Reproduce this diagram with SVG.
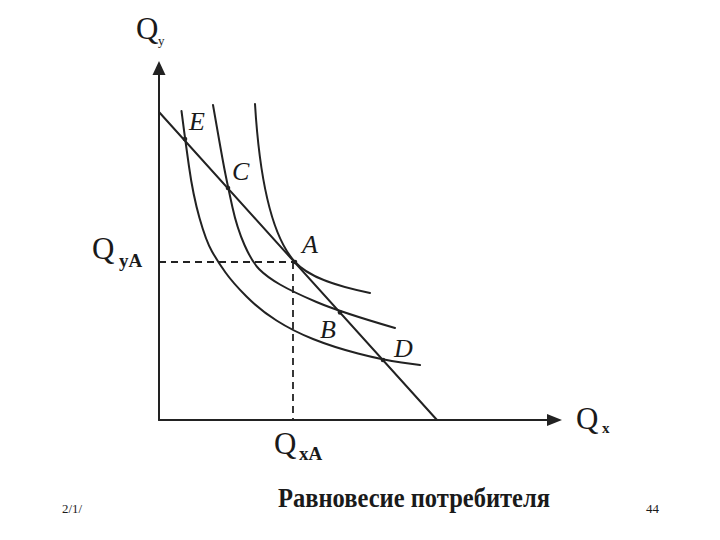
<svg xmlns="http://www.w3.org/2000/svg" width="720" height="540" viewBox="0 0 720 540">
<style>
.ln{fill:none;stroke:#222;stroke-width:2;stroke-linecap:round;stroke-linejoin:round}
.ds{fill:none;stroke:#222;stroke-width:1.8;stroke-dasharray:7 5}
.q{font-family:"Liberation Serif",serif;fill:#1a1a1a}
.it{font-family:"Liberation Serif",serif;font-style:italic;fill:#1a1a1a;font-size:26px}
.pt{fill:#222}
</style>
<rect width="720" height="540" fill="#fff"/>
<g id="axes">
<line class="ln" x1="159" y1="420" x2="159" y2="74"/>
<polygon class="pt" points="159,61 152.5,75 165.5,75"/>
<line class="ln" x1="159" y1="420" x2="549" y2="420"/>
<polygon class="pt" points="562,420 547,414 547,426"/>
</g>
<g id="connectors">
<line id="budget" class="ln" x1="159" y1="112" x2="437" y2="420"/>
<path id="u1" class="ln" d="M181.5,111 L183.25,124.5 Q185,138 189,166.5 Q193,195 199.5,218 Q206,241 212,251.5 Q218,262 225.5,272.5 Q233,283 246.5,296.5 Q260,310 276.5,320.5 Q293,331 313,339 Q333,347 358,353.5 Q383,360 401.5,362.5 L420,365"/>
<path id="u2" class="ln" d="M213,105 L218,133.5 Q223,162 225.5,174.5 Q228,187 232.5,207.5 Q237,228 244.5,245 Q252,262 259.5,269.5 Q267,277 280,284.5 Q293,292 316.5,302 Q340,312 395,328"/>
<path id="u3" class="ln" d="M255,104 C259,170 270,234.5 295,262 C310,278.5 340,287 370,293"/>
<line class="ds" x1="159" y1="262" x2="295" y2="262"/>
<line class="ds" x1="293" y1="262" x2="293" y2="420"/>
</g>
<g id="points">
<circle class="pt" cx="185" cy="139" r="2.3"/>
<circle class="pt" cx="228" cy="188" r="2.3"/>
<circle class="pt" cx="295" cy="262" r="2.3"/>
<circle class="pt" cx="340" cy="312.5" r="2.3"/>
<circle class="pt" cx="383" cy="360" r="2.3"/>
</g>
<g id="labels">
<text class="q" x="136" y="39" font-size="31">Q</text>
<text class="q" x="158" y="45" font-size="13">y</text>
<text class="q" x="92" y="259" font-size="31">Q</text>
<text class="q" x="119" y="267" font-size="19" font-weight="bold">yA</text>
<text class="q" x="274" y="454" font-size="31">Q</text>
<text class="q" x="299" y="460" font-size="19" font-weight="bold">xA</text>
<text class="q" x="576" y="429" font-size="31">Q</text>
<text class="q" x="602" y="433" font-size="15" font-weight="bold">x</text>
<text class="it" x="189" y="130">E</text>
<text class="it" x="232" y="180">C</text>
<text class="it" x="302" y="253">A</text>
<text class="it" x="320" y="338">B</text>
<text class="it" x="394" y="357">D</text>
</g>
<g id="footer">
<text class="q" x="62" y="513" font-size="13" textLength="20" lengthAdjust="spacingAndGlyphs">2/1/</text>
<text class="q" x="278" y="507" font-size="28" font-weight="bold" textLength="272" lengthAdjust="spacingAndGlyphs">Равновесие потребителя</text>
<text class="q" x="646" y="513" font-size="13">44</text>
</g>
</svg>
